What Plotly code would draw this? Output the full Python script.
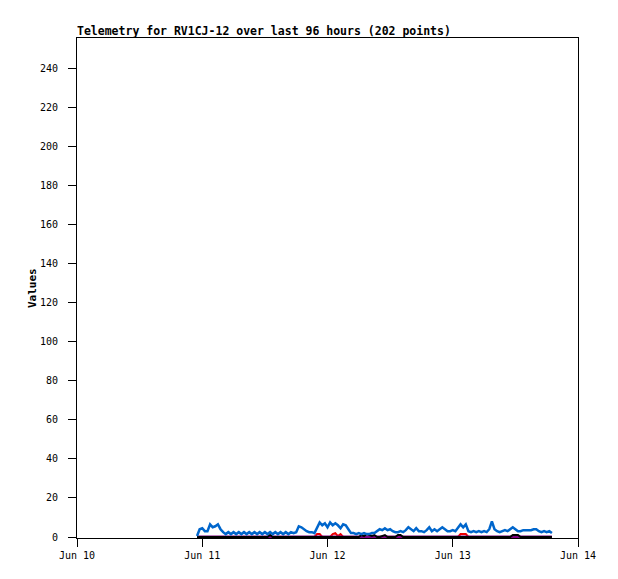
import pandas as pd
import plotly.graph_objects as go

# ---- data ----
start_time = "2024-06-10 23:00"
step = "30min"

blue = [0.5, 4, 4.5, 3, 3, 6.5, 5, 5.5, 6.5, 4,
        2.5, 1.5, 2.5, 1.5, 2.5, 1.5, 2.5, 1.5, 2.5, 1.5,
        2.5, 1.5, 2.5, 1.5, 2.5, 1.5, 2.5, 1.5, 2.5, 1.5,
        2.5, 1.5, 2.5, 1.5, 2.5, 1.5, 2.5, 2, 2.5, 5.5,
        5, 4, 3, 2.5, 2.5, 2, 5, 7.5, 6, 7,
        5, 7.5, 6, 7, 6, 4.5, 6.5, 6, 4, 2,
        2, 1.5, 2, 1.5, 2, 1.5, 1.5, 2, 2, 3,
        4, 3.5, 4.5, 3.5, 4, 3, 2.5, 2.5, 3, 2.5,
        3.5, 5, 4, 3, 4.5, 3, 3, 2.5, 3.5, 5,
        3, 4, 3, 4, 5, 4, 3, 3, 3.5, 3,
        5, 6.5, 5, 6.5, 3, 2.5, 3, 2.5, 3, 2.5,
        3, 2.5, 4, 8, 4, 3, 2.5, 3, 3.5, 3,
        4, 5, 4, 3, 3, 3.5, 3.5, 3.5, 3.5, 4,
        4, 3, 2.5, 3, 2.5, 3, 2]

red = [0] * 46 + [1.5, 1.5, 0, 0, 0, 0, 1.5, 2, 0.5, 1.5] + [0] * 45 + \
      [1.5, 1.5, 1.5] + [0] * 33

black = [0] * 28 + [1] + [0] * 34 + \
        [1, 0.5, 1.5, 1, 0.5, 1, 0, 0, 0.5, 1, 0, 0, 0, 0, 1, 1] + \
        [0] * 42 + [1, 1, 1] + [0] * 13

purple = [0] * len(blue)

times = pd.date_range(start_time, periods=len(blue), freq=step)

y_ticks = list(range(0, 241, 20))
x_ticks = ["2024-06-10", "2024-06-11", "2024-06-12", "2024-06-13", "2024-06-14"]
x_tick_labels = ["Jun 10", "Jun 11", "Jun 12", "Jun 13", "Jun 14"]

title_text = "Telemetry for RV1CJ-12 over last 96 hours (202 points)"

# ---- figure ----
mono = "DejaVu Sans Mono"
fig = go.Figure()
fig.add_trace(go.Scatter(x=times, y=red, mode="lines",
                         line=dict(color="#ee0000", width=2), showlegend=False))
fig.add_trace(go.Scatter(x=times, y=purple, mode="lines",
                         line=dict(color="#800080", width=3), showlegend=False))
fig.add_trace(go.Scatter(x=times, y=black, mode="lines",
                         line=dict(color="#000000", width=2), showlegend=False))
fig.add_trace(go.Scatter(x=times, y=blue, mode="lines",
                         line=dict(color="#0066cc", width=2.5), showlegend=False))

fig.update_layout(
    width=618, height=579,
    margin=dict(l=69, r=48, t=30, b=49),
    paper_bgcolor="white", plot_bgcolor="white",
    font=dict(family=mono, size=10, color="black"),
    title=dict(text="<b>" + title_text + "</b>", x=69 / 618, xanchor="left",
               xref="container", y=1 - 23 / 579, yanchor="middle", yref="container",
               font=dict(family=mono, size=11.5, color="black")),
    annotations=[dict(text="<b>Values</b>", textangle=-90, xref="paper", yref="paper",
                      x=(32 - 77) / 501, y=0.5, xanchor="center", yanchor="middle",
                      showarrow=False, font=dict(family=mono, size=11, color="black"))],
)
fig.update_xaxes(range=["2024-06-10", "2024-06-14"], tickvals=x_ticks,
                 ticktext=x_tick_labels, showgrid=False, zeroline=False,
                 showline=True, mirror=True, linecolor="black", linewidth=1,
                 ticks="outside", ticklen=8, tickcolor="black",
                 tickfont=dict(family=mono, size=10, color="black"))
fig.update_yaxes(range=[-0.5, 255.5], tickvals=y_ticks, showgrid=False, zeroline=False,
                 showline=True, mirror=True, linecolor="black", linewidth=1,
                 ticks="outside", ticklen=8, tickcolor="black", ticklabelstandoff=8,
                 tickfont=dict(family=mono, size=10, color="black"))

fig.write_html("out.html")
